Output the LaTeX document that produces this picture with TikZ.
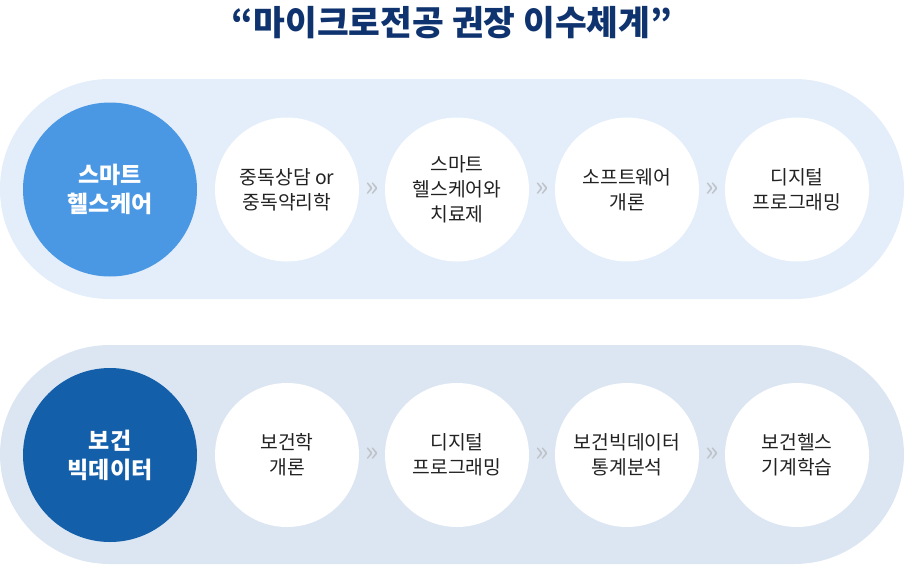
\documentclass[tikz,border=0pt]{standalone}
\usepackage{fontspec}
\setmainfont{Noto Sans CJK KR}
\usetikzlibrary{calc}
\definecolor{pillA}{HTML}{E3EEFA}
\definecolor{pillB}{HTML}{DCE6F2}
\definecolor{mainA}{HTML}{4A97E3}
\definecolor{mainB}{HTML}{145FAA}
\definecolor{titlec}{HTML}{0F336E}
\definecolor{arr}{HTML}{BFC3C8}
\definecolor{txt}{HTML}{222222}
\begin{document}
\begin{tikzpicture}[x=1pt,y=-1pt,
  pill/.style={rounded corners=109.5pt},
  course/.style={circle, fill=white, minimum size=144pt, inner sep=0pt, align=center, text=txt, font=\fontsize{19.3}{25}\selectfont},
  major/.style={circle, minimum size=174pt, inner sep=0pt, align=center, text=white, font=\fontsize{23}{29}\selectfont\bfseries},
  chev/.style={text=arr, inner sep=0pt, font=\fontsize{28}{28}\selectfont}]
\useasboundingbox (0,0) rectangle (904,565);
% title
\node[text=titlec, font=\fontsize{34.5}{40}\selectfont\bfseries] (title) at (452,23) {“마이크로전공 권장 이수체계”};
% top band
\fill[pillA, pill] (0,79) rectangle (904,299);
\node[major, fill=mainA] (m1) at (110,189.5) {스마트\\헬스케어};
\node[course] (a1) at (287,189.5) {중독상담 or\\중독약리학};
\node[course] (a2) at (457,189.5) {스마트\\헬스케어와\\치료제};
\node[course] (a3) at (627,189.5) {소프트웨어\\개론};
\node[course] (a4) at (797,189.5) {디지털\\프로그래밍};
\node[chev] (c1) at ($(a1)!0.5!(a2)$) {»};
\node[chev] (c2) at ($(a2)!0.5!(a3)$) {»};
\node[chev] (c3) at ($(a3)!0.5!(a4)$) {»};
% bottom band
\fill[pillB, pill] (0,345) rectangle (904,564);
\node[major, fill=mainB] (m2) at (110,455) {보건\\빅데이터};
\node[course] (b1) at (287,455) {보건학\\개론};
\node[course] (b2) at (457,455) {디지털\\프로그래밍};
\node[course] (b3) at (627,455) {보건빅데이터\\통계분석};
\node[course] (b4) at (797,455) {보건헬스\\기계학습};
\node[chev] (d1) at ($(b1)!0.5!(b2)$) {»};
\node[chev] (d2) at ($(b2)!0.5!(b3)$) {»};
\node[chev] (d3) at ($(b3)!0.5!(b4)$) {»};
\end{tikzpicture}
\end{document}
